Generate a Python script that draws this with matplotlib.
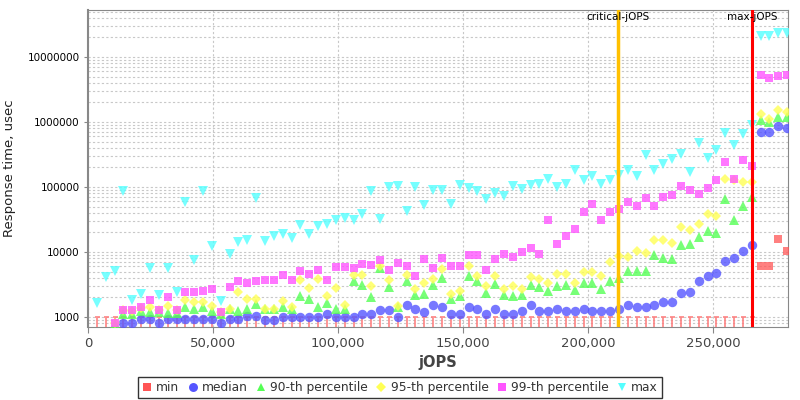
import numpy as np
import matplotlib
matplotlib.use("Agg")
import matplotlib.pyplot as plt
from matplotlib.path import Path
from matplotlib.lines import Line2D
from matplotlib.ticker import FixedLocator, FuncFormatter, LogLocator, NullFormatter

nan = np.nan
step = 3540
k = np.arange(1, 80)
jops = k * step

min_rt = [1000] * 75 + [6000, 6000, 16000, 10200]

median_rt = [nan, nan, nan, 809, 809, 931, 931, 809, 931, 931,
             931, 931, 931, 931, 809, 931, 931, 1020, 1020, 910,
             910, 1000, 1000, 1000, 1000, 1000, 1100, 1000, 1000, 1000,
             1100, 1100, 1295, 1295, 1000, 1510, 1330, 1210, 1510, 1405,
             1110, 1110, 1405, 1330, 1110, 1330, 1110, 1110, 1220, 1510,
             1220, 1220, 1330, 1220, 1220, 1330, 1220, 1220, 1220, 1330,
             1510, 1405, 1405, 1510, 1720, 1720, 2310, 2450, 3530, 4320,
             4720, 7350, 8090, 10200, 12900, 692000, 692000, 855000, 809000]

p90_rt = [nan, nan, 780, 1120, 1120, 1220, 1180, 1180, 1150, 1150,
          1425, 1330, 1425, 1220, 1110, 1330, 1220, 1330, 1600, 1330,
          1330, 1425, 1330, 2130, 1910, 1425, 1640, 1330, 1330, 3530,
          3140, 2030, 5680, 2890, 1425, 3530, 2200, 2280, 3140, 3980,
          1890, 2130, 4320, 3530, 2340, 3250, 2200, 2130, 2200, 3140,
          2890, 2540, 3030, 3140, 2630, 3335, 3335, 2725, 3615, 3980,
          5030, 5030, 5030, 9080, 8090, 7800, 12900, 13400, 17000, 20700,
          19600, 65300, 30600, 50300, 70200, 1080000, 986000, 1190000, 1190000]

p95_rt = [nan, nan, 810, 1300, 1220, 1375, 1425, 1295, 1490, 1300,
          1846, 1700, 1700, 1490, 1180, 1350, 2390, 1910, 1910, 1350,
          1350, 1740, 1425, 3655, 2790, 3880, 2075, 2790, 1510, 4480,
          4480, 2960, 6000, 3655, 1490, 4480, 2700, 3335, 3840, 5470,
          2280, 2480, 6000, 4320, 3030, 4220, 2700, 3030, 2700, 4060,
          3840, 3335, 4640, 4640, 3335, 4850, 4980, 4220, 7020, 8550,
          8370, 10200, 9660, 15400, 15100, 14000, 24300, 22000, 27200, 38800,
          36100, 133000, 126000, 119000, 119000, 1340000, 1110000, 1510000, 1410000]

p99_rt = [nan, nan, 820, 1295, 1295, 1425, 1830, 1295, 2030, 1295,
          2425, 2425, 2540, 2725, 1195, 2925, 3615, 3335, 3530, 3750,
          3750, 4430, 3750, 5150, 4640, 5210, 3655, 5880, 5810, 5600,
          6610, 6310, 7430, 5350, 6780, 6150, 4220, 7800, 5600, 8090,
          6000, 6150, 9080, 9080, 5350, 7800, 9190, 8260, 10100, 11500,
          9420, 30600, 13100, 17400, 22300, 41200, 54700, 30600, 41200, 45900,
          57900, 51500, 67700, 50300, 69200, 76200, 102000, 88700, 78000, 96600,
          126000, 239000, 134000, 257000, 208000, 5210000, 4750000, 5040000, 5210000]

max_rt = [1640, 4120, 5030, 87700, 1850, 2230, 5680, 2200, 5680, 2390,
          57900, 7600, 85500, 12200, 1740, 9190, 14060, 15450, 67700, 14600,
          17400, 19100, 16400, 26000, 19100, 25400, 26900, 30600, 33300, 31400,
          38800, 85500, 32200, 98600, 102000, 43100, 98600, 53500, 90800, 90800,
          55400, 106000, 96600, 85500, 65300, 80900, 73500, 102000, 94200, 106000,
          112000, 133000, 100000, 112000, 184000, 126000, 149000, 112000, 129000, 155000,
          184000, 146000, 306000, 180000, 226000, 270000, 322000, 168000, 476000, 279000,
          375000, 677000, 437000, 653000, 887000, 21300000, 21300000, 23400000, 23400000]

critical_jops = 212000
max_jops = 265600

series_labels = ["min", "median", "90-th percentile", "95-th percentile", "99-th percentile", "max"]
x_ticks = [0, 50000, 100000, 150000, 200000, 250000]
y_ticks = [1000, 10000, 100000, 1000000, 10000000]

colors = ["#ff5555", "#5555ff", "#55ff55", "#ffff55", "#ff55ff", "#55ffff"]
markers = ["s", "o", "^", "D", "s", "v"]
msizes = [5.5, 6.8, 6.5, 5.2, 5.5, 6.5]

fig = plt.figure(figsize=(8, 4), dpi=100)
ax = fig.add_axes([0.11, 0.1825, 0.875, 0.7925])
ax.set_yscale("log")
ax.set_xlim(0, 280000)
ax.set_ylim(702, 5.29e7)

ax.yaxis.set_major_locator(FixedLocator(y_ticks))
ax.yaxis.set_minor_locator(LogLocator(base=10, subs=np.arange(2, 10)))
ax.yaxis.set_minor_formatter(NullFormatter())
ax.yaxis.set_major_formatter(FuncFormatter(lambda v, p: "%d" % round(v)))
ax.xaxis.set_major_locator(FixedLocator(x_ticks))
ax.xaxis.set_major_formatter(FuncFormatter(lambda v, p: "{:,}".format(int(v))))
ax.grid(True, which="both", axis="y", color="#c8c8c8", linestyle=(0, (2, 2)), linewidth=0.8)
ax.grid(True, which="major", axis="x", color="#c8c8c8", linestyle=(0, (2, 2)), linewidth=0.8)
ax.set_axisbelow(True)
ax.tick_params(axis="y", which="minor", length=0)
ax.tick_params(axis="y", which="major", labelsize=7.5, length=3, color="#888888", pad=3)
ax.tick_params(axis="x", which="major", labelsize=9.5, length=4, color="#888888", pad=3, labelcolor="#444444")
for s in ax.spines.values():
    s.set_color("#888888")
ax.spines["left"].set_linewidth(1.5)

jops_arr = np.asarray(jops, dtype=float)
min_arr = np.asarray(min_rt, dtype=float)

tee = Path([(-2.5, 0), (2.5, 0), (0, 0), (0, -10)],
           [Path.MOVETO, Path.LINETO, Path.MOVETO, Path.LINETO])
low = min_arr <= 1000
ax.plot(jops_arr[low], min_arr[low], linestyle="none", marker=tee, markersize=14.4,
        markeredgewidth=1.4, color="#ff7a7a", alpha=0.8, zorder=3, clip_on=False)
ax.plot(jops_arr[~low], min_arr[~low], linestyle="none", marker="s", markersize=msizes[0],
        color=colors[0], alpha=0.75, markeredgewidth=0, zorder=3)

all_series = [median_rt, p90_rt, p95_rt, p99_rt, max_rt]
for i, ser in enumerate(all_series, start=1):
    ax.plot(jops_arr, np.asarray(ser, dtype=float), linestyle="none", marker=markers[i],
            markersize=msizes[i], color=colors[i], alpha=0.8, markeredgewidth=0, zorder=3 + i)

ax.axvline(critical_jops, color="#ffc000", linewidth=2.5, zorder=10)
ax.axvline(max_jops, color="#ff0000", linewidth=2.2, zorder=10)
ax.text(critical_jops, 0.978, "critical-jOPS", transform=ax.get_xaxis_transform(),
        ha="center", va="center", fontsize=7.5, color="black", zorder=11)
ax.text(max_jops, 0.978, "max-jOPS", transform=ax.get_xaxis_transform(),
        ha="center", va="center", fontsize=7.5, color="black", zorder=11)

ax.set_xlabel("jOPS", fontsize=10.5, fontweight="bold", color="#444444", labelpad=4)
ax.set_ylabel("Response time, usec", fontsize=9.5, color="#222222", labelpad=8)

handles = [Line2D([], [], linestyle="none", marker=markers[i], markersize=msizes[i] * 0.95,
                  color=colors[i], markeredgewidth=0) for i in range(6)]
leg = fig.legend(handles, series_labels, loc="center", bbox_to_anchor=(0.5, 0.031), ncol=6,
                 fontsize=8.8, frameon=True, fancybox=False, edgecolor="black",
                 handlelength=0.8, handletextpad=0.35, columnspacing=0.7, borderpad=0.3,
                 borderaxespad=0.2)
leg.get_frame().set_linewidth(1.0)
for t in leg.get_texts():
    t.set_color("#333333")

fig.savefig("out.png", dpi=100)
